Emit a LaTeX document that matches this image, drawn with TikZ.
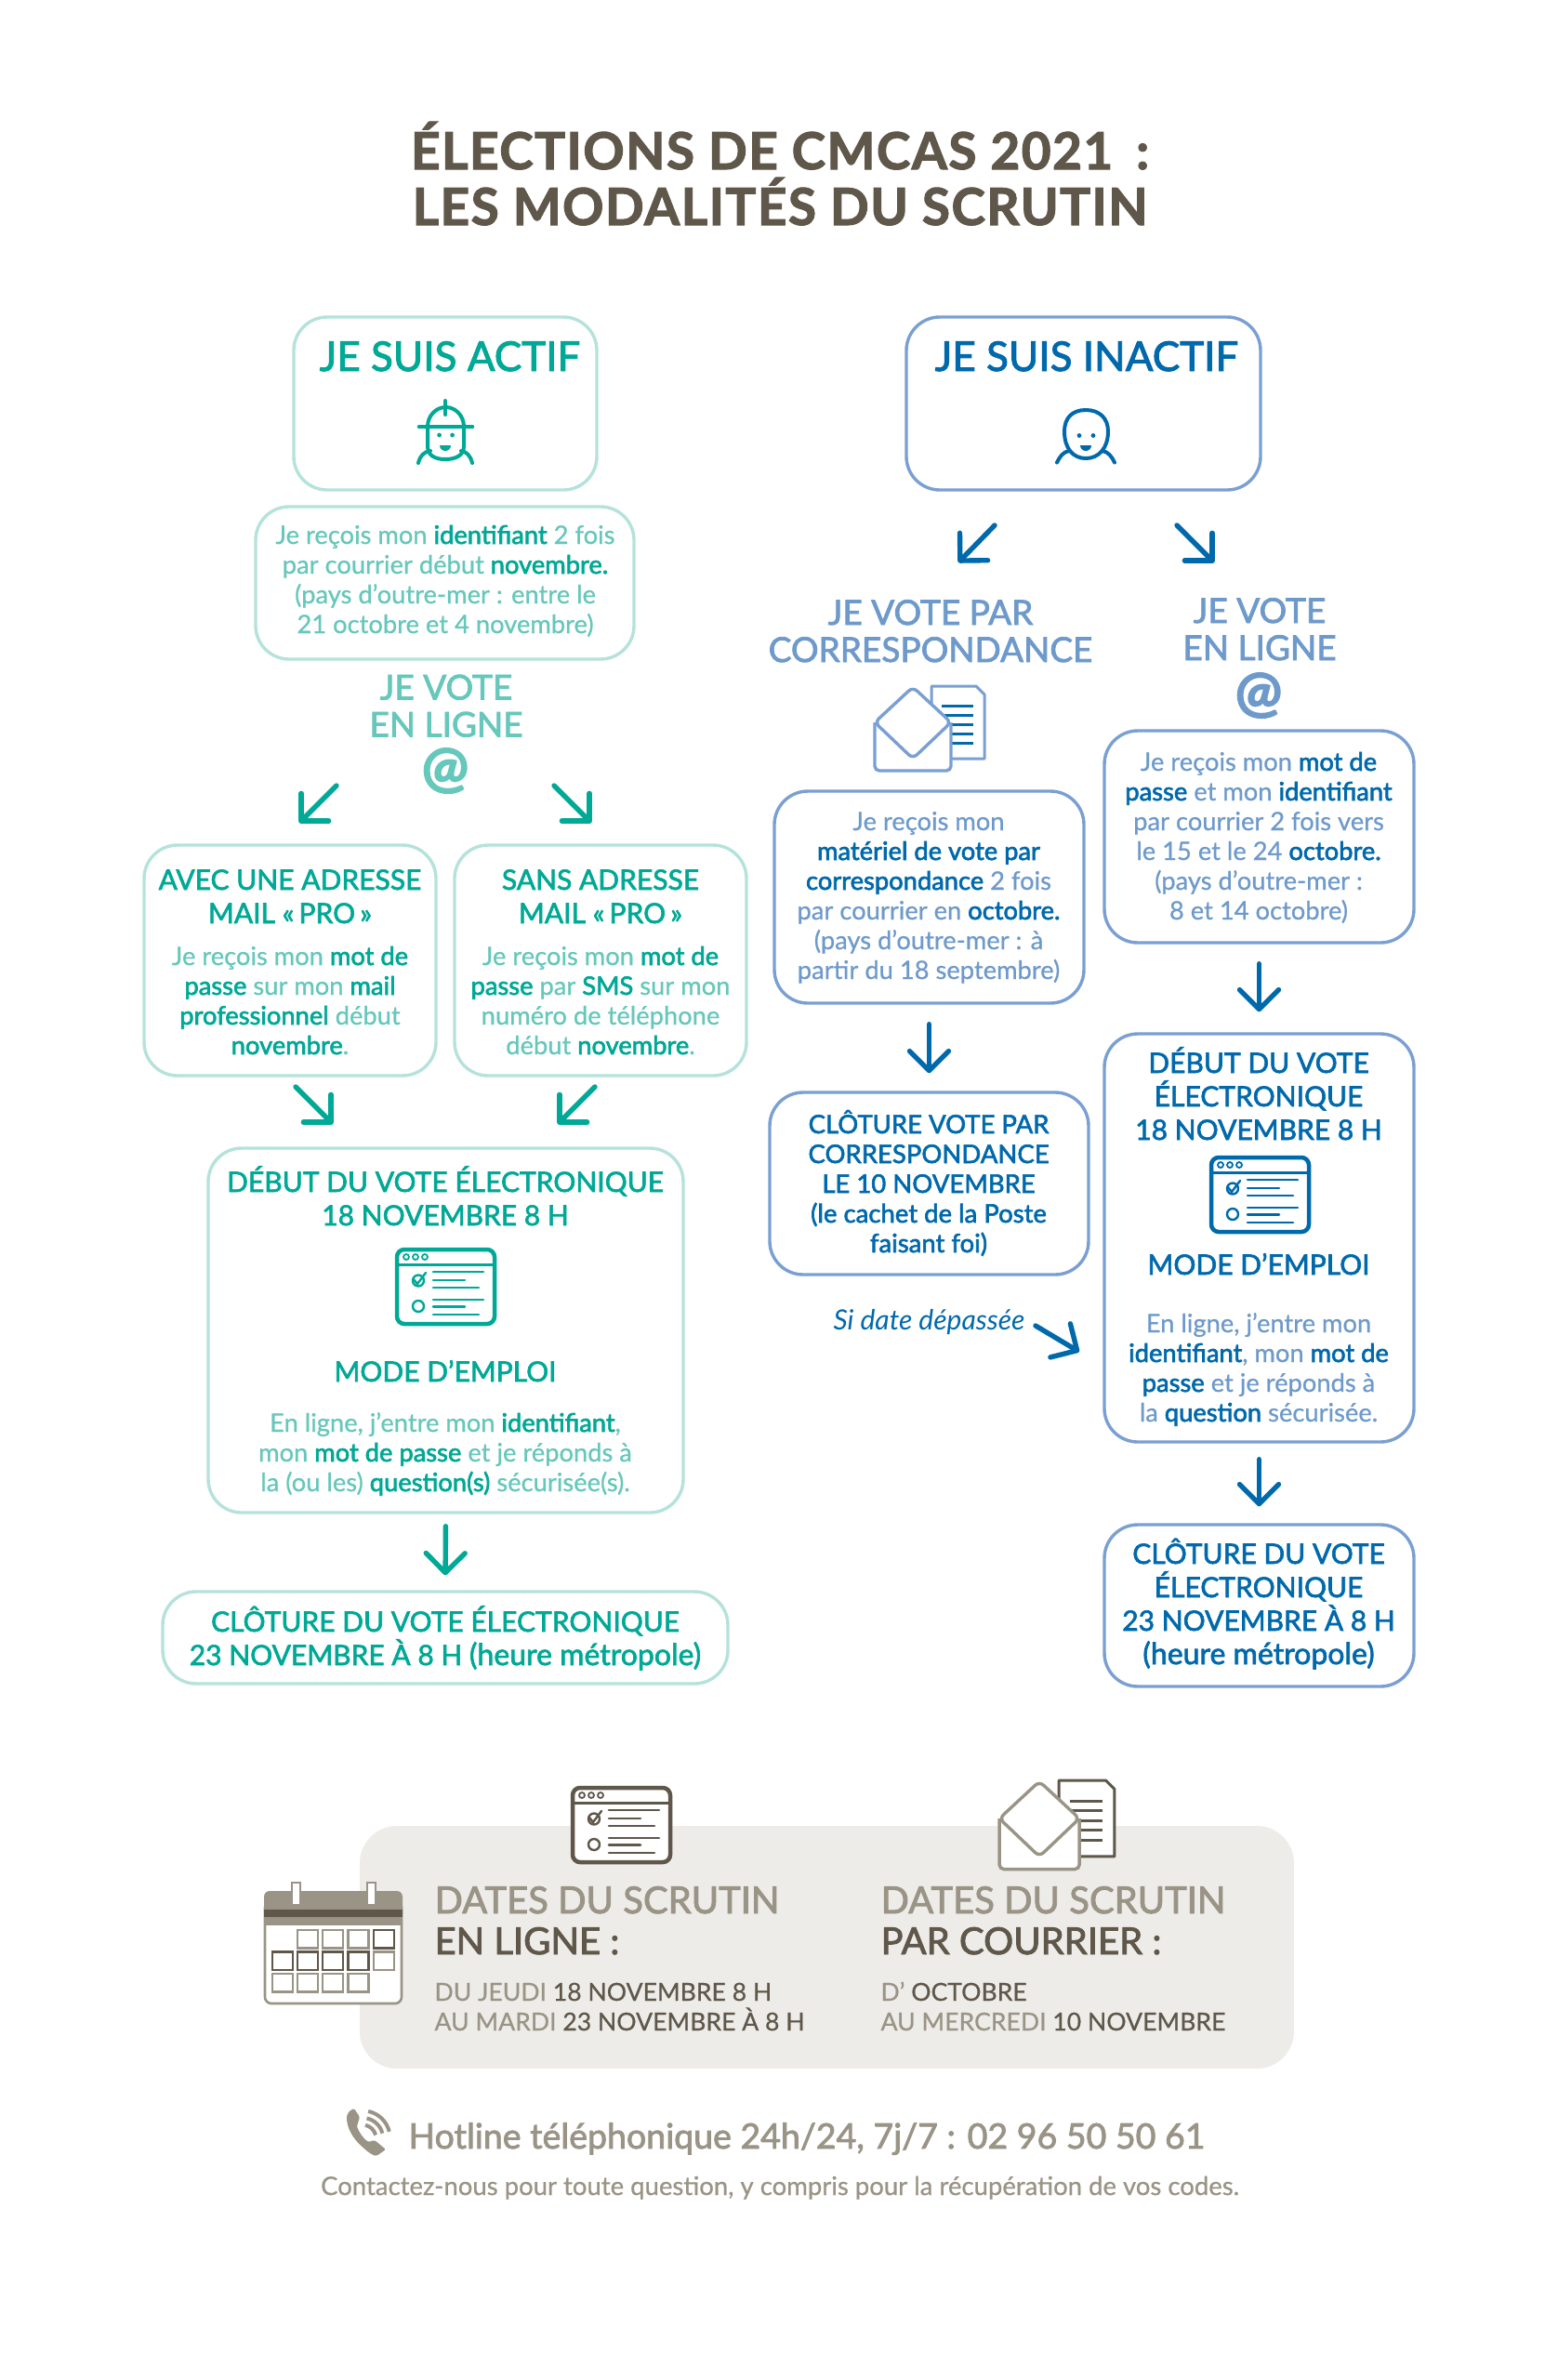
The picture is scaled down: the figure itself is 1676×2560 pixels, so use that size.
\documentclass[tikz,border=0pt]{standalone}
\usepackage{fontspec}
\usetikzlibrary{arrows.meta}
\setmainfont{Lato}
\newfontfamily\hf[FakeBold=2.2]{Lato}
\newfontfamily\strongf[FakeBold=2.4]{Lato}
\newfontfamily\bodyf[FakeBold=0.7]{Lato}
\newfontfamily\ttlf[FakeBold=2,LetterSpace=2.6]{Lato Bold}
\definecolor{tealD}{HTML}{00A896}
\definecolor{tealL}{HTML}{66C7BB}
\definecolor{tealB}{HTML}{B5E2DB}
\definecolor{blueD}{HTML}{0069AC}
\definecolor{blueL}{HTML}{6E9ACB}
\definecolor{blueB}{HTML}{7A9FD2}
\definecolor{brownD}{HTML}{5F574A}
\definecolor{brownL}{HTML}{9A9486}
\definecolor{panelc}{HTML}{EEECE9}
\newcommand\tb[1]{{\strongf\color{tealD}#1}}
\newcommand\bb[1]{{\strongf\color{blueD}#1}}
\newcommand\db[1]{{\color{brownD}#1}}
\newcommand\flowbox[6]{\node[#1,minimum width={(#5-#3)*1pt},minimum height={(#6-#4)*1pt}] (#2) at ({(#3+#5)/2},{(#4+#6)/2}) {};}
\newcommand\webicon[3]{\begin{scope}[shift={(#1,#2)},draw=#3,line cap=round]
 \draw[fill=white,line width=4.5pt,rounded corners=8pt] (2,2) rectangle (107,82);
 \draw[line width=3pt] (2,18) -- (107,18);
 \foreach \dx in {12,22,32}{\draw[line width=1.8pt] (\dx,10) circle (3);}
 \draw[line width=2.4pt] (25,35.5) circle (6);
 \draw[line width=2.4pt] (20,34) -- (24,39) -- (33,27);
 \draw[line width=2.4pt] (25,63) circle (6);
 \draw[line width=2.6pt] (41,26) -- (95,26) (41,35) -- (75,35) (41,43) -- (90,43) (41,56) -- (95,56) (41,63.5) -- (75,63.5) (41,72) -- (90,72);
\end{scope}}
\newcommand\envicon[6]{\begin{scope}[shift={(#1,#2)},scale=#6]
 \draw[#3,fill=white,line width=3pt,line join=round] (62,1) -- (110,1) -- (119,10) -- (119,79) -- (62,79) -- cycle;
 \draw[#4,line width=3pt] (73,22) -- (107,22) (73,32) -- (107,32) (73,42) -- (107,42) (73,52) -- (107,52) (73,62) -- (107,62);
 \begin{scope}[draw=#5,line width=3.4pt]
 \draw[fill=white,rounded corners=5pt] (1,40) -- (1,92) -- (83,92) -- (83,40);
 \draw[fill=white,rounded corners=6pt] (1,40) -- (42,2) -- (83,40) -- (42,79) -- cycle;
 \end{scope}
\end{scope}}
\tikzset{
 x=1pt,y=-1pt,
 tbox/.style={draw=tealB,line width=3.4pt,rounded corners=36pt,inner sep=0pt,fill=white},
 bbox/.style={draw=blueB,line width=3.4pt,rounded corners=36pt,inner sep=0pt,fill=white},
 arr/.style={line width=5.4pt,line cap=round,-{Straight Barb[length=21pt,width=42pt,round]}},
 head/.style={anchor=base,align=center,font=\hf\fontsize{#1}{36}\selectfont},
 heads/.style={anchor=base,align=center,font=\hf\fontsize{#1}{32}\selectfont},
 big/.style={anchor=base,align=center,font=\hf\fontsize{37}{40}\selectfont},
 title/.style={anchor=base,font=\hf\fontsize{44}{50}\selectfont},
 bodyt/.style={anchor=base,align=center,font=\bodyf\fontsize{27.3}{32}\selectfont},
 atsign/.style={anchor=center,font=\strongf\bfseries\fontsize{60}{60}\selectfont},
 cardhead/.style={anchor=base west,font=\hf\fontsize{40}{46}\selectfont},
 cardline/.style={anchor=base west,font=\bodyf\fontsize{26.6}{32}\selectfont,text=brownL},
}
\begin{document}
\begin{tikzpicture}
\useasboundingbox (0,0) rectangle (1676,2560);
\fill[white] (0,0) rectangle (1676,2560);
% main title
\node[anchor=base,align=center,text=brownD,font=\ttlf\fontsize{55}{60}\selectfont] (ttl) at (839,242) {ÉLECTIONS DE CMCAS 2021\hspace{10pt} :\\LES MODALITÉS DU SCRUTIN};
% ---------- left column
\flowbox{tbox}{actif}{316}{341}{642}{527}
\node[title,text=tealD] (tactif) at (484,399) {JE SUIS ACTIF};
\begin{scope}[draw=tealD,line width=4pt,line cap=round,line join=round]
 \draw (479,431) -- (479,446);
 \draw (460,459) arc (-180:0:19.5 and 21);
 \draw[line width=4.6pt] (451,459) -- (508,459);
 \draw (460,459) -- (460,480) .. controls (460,490) and (468,494) .. (479,494) .. controls (490,494) and (499,490) .. (499,480) -- (499,459);
 \draw (450,498) .. controls (452,490) and (456,486) .. (463,485);
 \draw (508,498) .. controls (506,490) and (502,486) .. (496,485);
 \fill[tealD] (472.6,468) circle (2.4) (486.6,468) circle (2.4);
 \fill[tealD] (473,479) -- (485,479) arc (0:180:6 and 6) -- cycle;
\end{scope}
\flowbox{tbox}{recv}{275}{545}{682}{709}
\node[bodyt,text=tealL] (trecv) at (479,681) {Je reçois mon \tb{identifiant} 2 fois\\par courrier début \tb{novembre.}\\(pays d’outre-mer : entre le\\21 octobre et 4 novembre)};
\node[big,text=tealL] (tvoteA) at (480,792.5) {JE VOTE\\EN LIGNE};
\node[atsign,text=tealL] (atA) at (479,829) {@};
\coordinate (a1s) at (362,845); \coordinate (a1e) at (322,885);
\coordinate (a2s) at (596,845); \coordinate (a2e) at (636,885);
\draw[arr,tealD] (a1s) -- (a1e);
\draw[arr,tealD] (a2s) -- (a2e);
\flowbox{tbox}{avec}{155}{909}{469}{1157}
\flowbox{tbox}{sans}{489}{909}{803}{1157}
\node[head=30,text=tealD] (tavec) at (312,993) {AVEC UNE ADRESSE\\MAIL «\,PRO\,»};
\node[bodyt,text=tealL] (bavec) at (312,1134) {Je reçois mon \tb{mot de}\\\tb{passe} sur mon \tb{mail}\\\tb{professionnel} début\\\tb{novembre}.};
\node[head=30,text=tealD] (tsans) at (646,993) {SANS ADRESSE\\MAIL «\,PRO\,»};
\node[bodyt,text=tealL] (bsans) at (646,1134) {Je reçois mon \tb{mot de}\\\tb{passe} par \tb{SMS} sur mon\\numéro de téléphone\\début \tb{novembre}.};
\coordinate (a3s) at (318,1169); \coordinate (a3e) at (358,1209);
\coordinate (a4s) at (640,1169); \coordinate (a4e) at (600,1209);
\draw[arr,tealD] (a3s) -- (a3e);
\draw[arr,tealD] (a4s) -- (a4e);
\flowbox{tbox}{debA}{224}{1235}{735}{1627}
\node[head=30,text=tealD] (tdebA) at (479,1318) {DÉBUT DU VOTE ÉLECTRONIQUE\\18 NOVEMBRE 8 H};
\webicon{425}{1342}{tealD}
\node[head=30,text=tealD] (mA) at (479,1486) {MODE D’EMPLOI};
\node[bodyt,text=tealL] (bdebA) at (479,1604) {En ligne, j’entre mon \tb{identifiant},\\mon \tb{mot de passe} et je réponds à\\la (ou les) \tb{question(s)} sécurisée(s).};
\flowbox{tbox}{cloA}{175}{1712}{783}{1811}
\node[head=30,text=tealD] (tcloA) at (479,1791) {CLÔTURE DU VOTE ÉLECTRONIQUE\\23 NOVEMBRE À 8 H {\fontsize{32}{36}\selectfont(heure métropole)}};
\draw[arr,tealD,shorten <=13pt,shorten >=16pt] (debA.south) -- (cloA.north);
% ---------- right column
\flowbox{bbox}{inact}{975}{341}{1356}{527}
\node[title,text=blueD] (tinact) at (1169,399) {JE SUIS INACTIF};
\begin{scope}[draw=blueD,line width=4pt,line cap=round]
 \draw (1168,441) .. controls (1183,441) and (1192,450) .. (1192,464) .. controls (1192,482) and (1182,493) .. (1168,493) .. controls (1154,493) and (1145,482) .. (1145,464) .. controls (1145,450) and (1153,441) .. (1168,441) -- cycle;
 \draw (1137,497.5) .. controls (1140,491) and (1144,486) .. (1150,485);
 \draw (1199,497.5) .. controls (1196,491) and (1192,486) .. (1186,485);
 \fill[blueD] (1161,468.5) circle (2.4) (1176,468.5) circle (2.4);
 \fill[blueD] (1162,479) -- (1174,479) arc (0:180:6 and 6) -- cycle;
\end{scope}
\coordinate (b1s) at (1070,565); \coordinate (b1e) at (1031,605);
\coordinate (b2s) at (1266,565); \coordinate (b2e) at (1306,605);
\draw[arr,blueD] (b1s) -- (b1e);
\draw[arr,blueD] (b2s) -- (b2e);
\node[big,text=blueL] (tvoteC) at (1001,712) {JE VOTE PAR\\CORRESPONDANCE};
\node[big,text=blueL] (tvoteB) at (1355,710) {JE VOTE\\EN LIGNE};
\node[atsign,text=blueL] (atB) at (1354,748) {@};
\envicon{940}{737}{blueB}{blueD}{blueB}{1}
\flowbox{bbox}{recC}{833}{851}{1166}{1079}
\node[bodyt,text=blueL] (trecC) at (999,1053) {Je reçois mon\\\bb{matériel de vote par}\\\bb{correspondance} 2 fois\\par courrier en \bb{octobre.}\\(pays d’outre-mer : à\\partir du 18 septembre)};
\flowbox{bbox}{recB}{1188}{786}{1521}{1014}
\node[bodyt,text=blueL] (trecB) at (1354,989) {Je reçois mon \bb{mot de}\\\bb{passe} et mon \bb{identifiant}\\par courrier 2 fois vers\\le 15 et le 24 \bb{octobre.}\\(pays d’outre-mer :\\8 et 14 octobre)};
\flowbox{bbox}{cloC}{828}{1175}{1171}{1371}
\node[heads=27.5,text=blueD] (tcloC) at (999,1347) {CLÔTURE VOTE PAR\\CORRESPONDANCE\\LE 10 NOVEMBRE\\(le cachet de la Poste\\faisant foi)};
\draw[arr,blueD,shorten <=21pt,shorten >=19pt] (recC.south) -- (cloC.north);
\node[anchor=base west,font=\itshape\fontsize{30}{32}\selectfont,text=blueD] (sidate) at (893,1430) {Si date dépassée};
\coordinate (b3s) at (1114,1426); \coordinate (b3e) at (1161,1454);
\draw[arr,blueD] (b3s) -- (b3e);
\flowbox{bbox}{debB}{1188}{1112}{1521}{1551}
\node[head=30,text=blueD] (tdebB) at (1354,1226) {DÉBUT DU VOTE\\ÉLECTRONIQUE\\18 NOVEMBRE 8 H};
\webicon{1301}{1243}{blueD}
\node[head=30,text=blueD] (mB) at (1354,1371) {MODE D’EMPLOI};
\node[bodyt,text=blueL] (bdebB) at (1354,1529) {En ligne, j’entre mon\\\bb{identifiant}, mon \bb{mot de}\\\bb{passe} et je réponds à\\la \bb{question} sécurisée.};
\draw[arr,blueD,shorten <=21pt,shorten >=22pt] (recB.south) -- (debB.north);
\flowbox{bbox}{cloB}{1188}{1640}{1521}{1814}
\node[head=30,text=blueD] (tcloB) at (1354,1790) {CLÔTURE DU VOTE\\ÉLECTRONIQUE\\23 NOVEMBRE À 8 H\\{\fontsize{32}{36}\selectfont(heure métropole)}};
\draw[arr,blueD,shorten <=17pt,shorten >=18pt] (debB.south) -- (cloB.north);
% ---------- bottom panel
\node[fill=panelc,rounded corners=40pt,inner sep=0pt,minimum width=1005pt,minimum height=261pt] (panel) at (889.5,2094.5) {};
\webicon{614}{1921}{brownD}
\envicon{1074}{1914}{brownD}{brownD}{brownL}{1.05}
% calendar
\begin{scope}
 \draw[brownL,fill=white,line width=2.6pt,rounded corners=7pt] (285,2045) rectangle (432,2155);
 \fill[brownL,rounded corners=6pt] (284,2034) rectangle (433,2064);
 \fill[brownL] (284,2054) rectangle (433,2071);
 \fill[brownD] (284,2054) rectangle (433,2062);
 \draw[brownL,fill=white,line width=2.4pt] (314,2025) rectangle (323,2049);
 \draw[brownL,fill=white,line width=2.4pt] (395,2025) rectangle (404,2049);
 \foreach \cx/\cy/\cc in {320/2076/brownL,347/2076/brownL,374.5/2076/brownL,402/2076/brownD,
   293/2099.5/brownD,320/2099.5/brownD,347/2099.5/brownD,374.5/2099.5/brownD,402/2099.5/brownL,
   293/2123/brownL,320/2123/brownL,347/2123/brownL,374.5/2123/brownL}
  {\draw[\cc,line width=2.4pt] (\cx,\cy) rectangle ++(22,19.5);}
\end{scope}
\node[cardhead,text=brownL] (d1) at (464,2058) {DATES DU SCRUTIN};
\node[cardhead,text=brownD] (d2) at (464,2102) {EN LIGNE :};
\node[cardline] (d3) at (464,2152) {DU JEUDI \db{18 NOVEMBRE 8 H}};
\node[cardline] (d4) at (464,2184) {AU MARDI \db{23 NOVEMBRE À 8 H}};
\node[cardhead,text=brownL] (e1) at (944,2058) {DATES DU SCRUTIN};
\node[cardhead,text=brownD] (e2) at (944,2102) {PAR COURRIER :};
\node[cardline] (e3) at (944,2152) {D’ \db{OCTOBRE}};
\node[cardline] (e4) at (944,2184) {AU MERCREDI \db{10 NOVEMBRE}};
% phone
\fill[brownL,rounded corners=1.5pt] (381,2268) .. controls (376,2270) and (373,2274) .. (373,2279) .. controls (374,2292) and (383,2304) .. (392,2311) .. controls (396,2315) and (401,2318) .. (405,2319) -- (415,2312) -- (403,2302) -- (396,2304) .. controls (390,2299) and (386,2293) .. (384,2287) -- (387,2277) -- cycle;
\foreach \r in {14.5,22,29.7}{\draw[brownL,line width=4pt,line cap=butt] (390,2300) ++(-78:\r) arc (-78:-14:\r);}
\node[anchor=base west,font=\hf\fontsize{37.5}{42}\selectfont,text=brownL] (hot) at (436,2311) {Hotline téléphonique 24h/24, 7j/7 : 02 96 50 50 61};
\node[anchor=base,font=\bodyf\fontsize{27.5}{30}\selectfont,text=brownL] (con) at (839,2361) {Contactez-nous pour toute question, y compris pour la récupération de vos codes.};
\end{tikzpicture}
\end{document}
